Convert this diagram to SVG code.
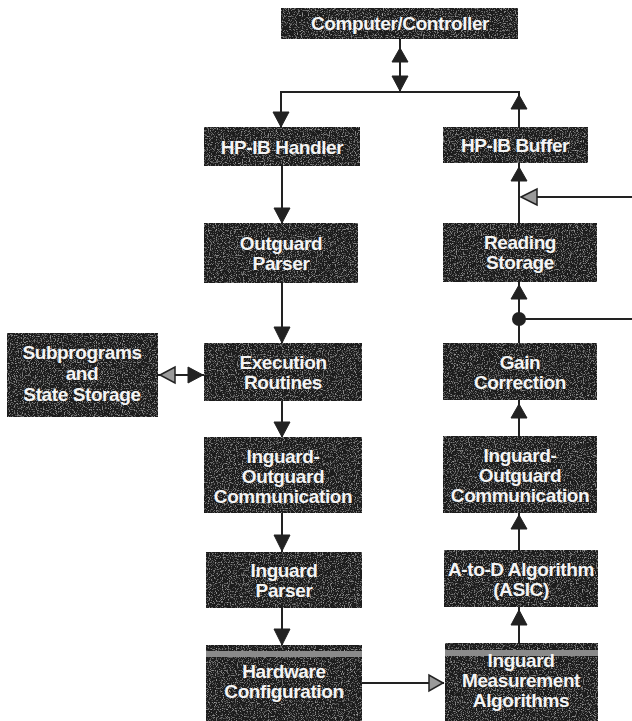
<svg xmlns="http://www.w3.org/2000/svg" width="632" height="721" viewBox="0 0 632 721">
<style>
.box{fill:#1c1c1c;filter:url(#grain)}
.lbl{font-family:"Liberation Sans",Arial,sans-serif;font-weight:bold;font-size:19px;letter-spacing:-0.4px;fill:#f4f4f4;text-anchor:middle}
.ln{stroke:#222;stroke-width:2;fill:none}
.ah{fill:#222;stroke:#222;stroke-width:1}
.ahl{fill:#9a9a9a;stroke:#222;stroke-width:1.5}
.stripe{fill:#8a8a8a}
</style>
<defs>
<filter id="grain" x="0" y="0" width="100%" height="100%">
<feTurbulence type="fractalNoise" baseFrequency="0.85" numOctaves="2" seed="4" result="n"/>
<feColorMatrix in="n" type="matrix" values="0 0 0 0 0.65 0 0 0 0 0.65 0 0 0 0 0.65 0 0 0 1.8 -0.95" result="s"/>
<feComposite in="s" in2="SourceGraphic" operator="atop"/>
</filter>
</defs>
<rect width="632" height="721" fill="#fff"/>

<g id="connectors">
<line class="ln" x1="400" y1="38" x2="400" y2="92"/>
<polygon class="ah" points="400,48 392,62 408,62"/>
<polygon class="ah" points="400,91 392,76 408,76"/>
<polyline class="ln" points="281,127 281,92 519,92 519,127"/>
<polygon class="ah" points="281,127 273,112 289,112"/>
<polygon class="ah" points="519,95 511,109 527,109"/>
<line class="ln" x1="282" y1="166" x2="282" y2="223"/>
<polygon class="ah" points="282,223 274,208 290,208"/>
<line class="ln" x1="282" y1="283" x2="282" y2="343"/>
<polygon class="ah" points="282,343 274,327 290,327"/>
<line class="ln" x1="282" y1="401" x2="282" y2="437"/>
<polygon class="ah" points="282,437 274,422 290,422"/>
<line class="ln" x1="282" y1="513" x2="282" y2="552"/>
<polygon class="ah" points="282,551 274,535 290,535"/>
<line class="ln" x1="282" y1="608" x2="282" y2="645"/>
<polygon class="ah" points="282,645 274,629 290,629"/>
<line class="ln" x1="158" y1="375" x2="204" y2="375"/>
<polygon class="ahl" points="160,375 175,367 175,383"/>
<polygon class="ah" points="203,375 188,367 188,383"/>
<line class="ln" x1="362" y1="683" x2="444" y2="683"/>
<polygon class="ahl" points="443,683 429,675 429,691"/>
<line class="ln" x1="519" y1="643" x2="519" y2="607"/>
<polygon class="ah" points="519,610 511,625 527,625"/>
<line class="ln" x1="519" y1="550" x2="519" y2="513"/>
<polygon class="ah" points="519,515 511,529 527,529"/>
<line class="ln" x1="519" y1="436" x2="519" y2="400"/>
<polygon class="ah" points="519,404 511,418 527,418"/>
<line class="ln" x1="519" y1="343" x2="519" y2="282"/>
<polygon class="ah" points="519,285 511,299 527,299"/>
<circle cx="519" cy="319" r="7" fill="#222"/>
<line class="ln" x1="519" y1="319" x2="632" y2="319"/>
<line class="ln" x1="519" y1="223" x2="519" y2="163"/>
<polygon class="ah" points="519,167 511,181 527,181"/>
<line class="ln" x1="521" y1="197" x2="632" y2="197"/>
<polygon class="ahl" points="521,197 537,189 537,205"/>
</g>

<g id="computer">
<rect class="box" x="281" y="8" width="237" height="31"/>
<text class="lbl" x="400" y="30">Computer/Controller</text>
</g>
<g id="hpib-handler">
<rect class="box" x="204" y="127" width="156" height="39"/>
<text class="lbl" x="282" y="154">HP-IB Handler</text>
</g>
<g id="hpib-buffer">
<rect class="box" x="443" y="127" width="145" height="36"/>
<text class="lbl" x="515" y="152">HP-IB Buffer</text>
</g>
<g id="outguard-parser">
<rect class="box" x="204" y="223" width="154" height="60"/>
<text class="lbl" x="281" y="250">Outguard</text>
<text class="lbl" x="281" y="270">Parser</text>
</g>
<g id="reading-storage">
<rect class="box" x="443" y="223" width="154" height="59"/>
<text class="lbl" x="520" y="249">Reading</text>
<text class="lbl" x="520" y="269">Storage</text>
</g>
<g id="subprograms">
<rect class="box" x="7" y="333" width="151" height="84"/>
<text class="lbl" x="82" y="359">Subprograms</text>
<text class="lbl" x="82" y="380">and</text>
<text class="lbl" x="82" y="401">State Storage</text>
</g>
<g id="execution">
<rect class="box" x="204" y="343" width="158" height="58"/>
<text class="lbl" x="283" y="369">Execution</text>
<text class="lbl" x="283" y="389">Routines</text>
</g>
<g id="gain-correction">
<rect class="box" x="443" y="343" width="154" height="57"/>
<text class="lbl" x="520" y="369">Gain</text>
<text class="lbl" x="520" y="389">Correction</text>
</g>
<g id="io-comm-left">
<rect class="box" x="204" y="437" width="158" height="76"/>
<text class="lbl" x="283" y="463">Inguard-</text>
<text class="lbl" x="283" y="483">Outguard</text>
<text class="lbl" x="283" y="503">Communication</text>
</g>
<g id="io-comm-right">
<rect class="box" x="443" y="436" width="154" height="77"/>
<text class="lbl" x="520" y="462">Inguard-</text>
<text class="lbl" x="520" y="482">Outguard</text>
<text class="lbl" x="520" y="502">Communication</text>
</g>
<g id="inguard-parser">
<rect class="box" x="206" y="552" width="156" height="56"/>
<text class="lbl" x="284" y="577">Inguard</text>
<text class="lbl" x="284" y="597">Parser</text>
</g>
<g id="atod">
<rect class="box" x="444" y="550" width="154" height="57"/>
<text class="lbl" x="521" y="576">A-to-D Algorithm</text>
<text class="lbl" x="521" y="596">(ASIC)</text>
</g>
<g id="hardware-config">
<rect class="box" x="206" y="645" width="156" height="77"/>
<rect class="stripe" x="206" y="651" width="156" height="6"/>
<text class="lbl" x="284" y="678">Hardware</text>
<text class="lbl" x="284" y="698">Configuration</text>
</g>
<g id="measurement">
<rect class="box" x="445" y="643" width="153" height="79"/>
<rect class="stripe" x="445" y="650" width="153" height="6"/>
<text class="lbl" x="521" y="667">Inguard</text>
<text class="lbl" x="521" y="687">Measurement</text>
<text class="lbl" x="521" y="707">Algorithms</text>
</g>
</svg>
